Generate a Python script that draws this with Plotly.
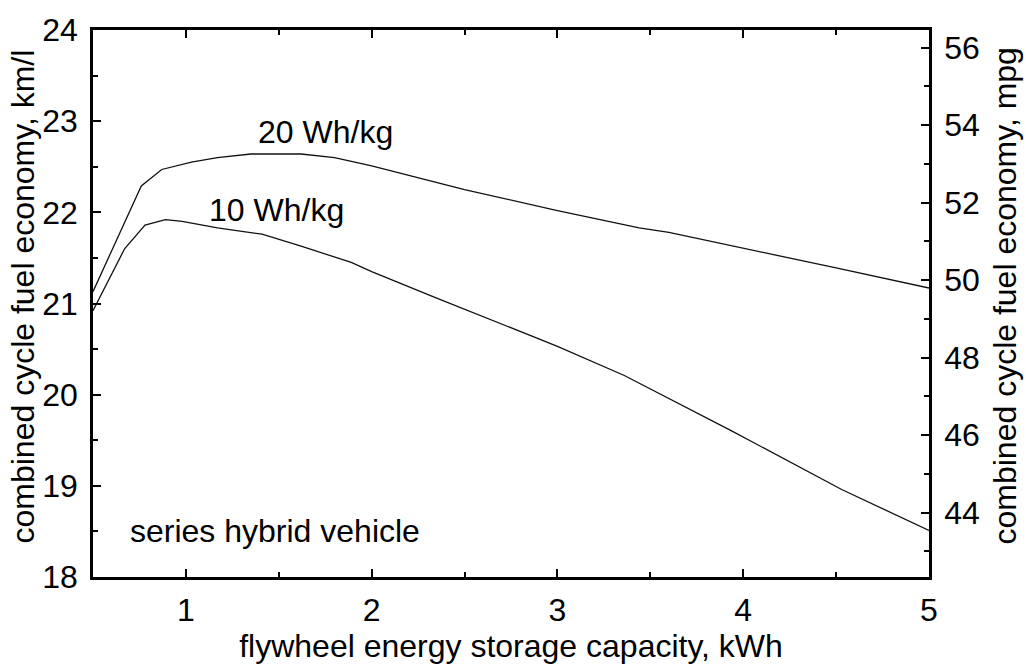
import plotly.graph_objects as go

# data
x_20 = [0.5, 0.62, 0.76, 0.87, 1.03, 1.17, 1.35, 1.62, 1.80, 2.0, 2.5, 3.0, 3.44, 3.6, 4.0, 4.25, 4.5, 5.0]
y_20 = [21.13, 21.67, 22.29, 22.47, 22.55, 22.60, 22.64, 22.64, 22.60, 22.51, 22.25, 22.02, 21.83, 21.78, 21.61, 21.50, 21.39, 21.17]

x_10 = [0.5, 0.67, 0.78, 0.89, 0.98, 1.17, 1.41, 1.62, 1.89, 2.0, 2.35, 2.73, 3.0, 3.36, 3.94, 4.53, 5.0]
y_10 = [20.92, 21.60, 21.86, 21.92, 21.90, 21.83, 21.76, 21.63, 21.45, 21.35, 21.06, 20.75, 20.53, 20.21, 19.60, 18.96, 18.51]

x_ticks = [1, 2, 3, 4, 5]
y_ticks_kml = [18, 19, 20, 21, 22, 23, 24]
y_ticks_mpg = [44, 46, 48, 50, 52, 54, 56]

KML_PER_MPG = 0.425144
FONT = "Liberation Sans, Arial, sans-serif"
FS = 32

fig = go.Figure()
fig.add_trace(go.Scatter(x=x_20, y=y_20, mode="lines", line=dict(color="#111", width=1.3),
                         showlegend=False))
fig.add_trace(go.Scatter(x=x_10, y=y_10, mode="lines", line=dict(color="#111", width=1.3),
                         showlegend=False))
fig.add_trace(go.Scatter(x=[None], y=[None], yaxis="y2", showlegend=False))

tf = dict(size=FS, family=FONT, color="black")
fig.add_annotation(x=1.753, y=22.88, text="20 Wh/kg", showarrow=False,
                   xanchor="center", yanchor="middle", font=tf)
fig.add_annotation(x=1.489, y=22.03, text="10 Wh/kg", showarrow=False,
                   xanchor="center", yanchor="middle", font=tf)
fig.add_annotation(x=0.69, y=18.51, text="series hybrid vehicle", showarrow=False,
                   xanchor="left", yanchor="middle", font=tf)
# axis titles for the two y axes
fig.add_annotation(xref="paper", yref="paper", x=0, y=0.5, xshift=-71, yshift=7,
                   text="combined cycle fuel economy, km/l", textangle=-90, showarrow=False,
                   xanchor="center", yanchor="middle", font=tf)
fig.add_annotation(xref="paper", yref="paper", x=1, y=0.5, xshift=75, yshift=7,
                   text="combined cycle fuel economy, mpg", textangle=-90, showarrow=False,
                   xanchor="center", yanchor="middle", font=tf)

axis_common = dict(showline=True, linecolor="black", linewidth=2.5, ticks="inside",
                   tickcolor="black", tickwidth=2, ticklen=8, showgrid=False, zeroline=False,
                   tickfont=tf)
minor_style = dict(ticks="inside", ticklen=5, tickcolor="black", tickwidth=1.5)

fig.update_layout(
    width=1026, height=671,
    margin=dict(l=93, r=97, t=22, b=88),
    paper_bgcolor="white", plot_bgcolor="white",
    font=dict(family=FONT, size=FS, color="black"),
    xaxis=dict(range=[0.5, 5], tickvals=x_ticks, mirror="ticks",
               minor=dict(dtick=0.5, **minor_style),
               title=dict(text="flywheel energy storage capacity, kWh", standoff=8, font=tf),
               ticklabelstandoff=3, **axis_common),
    yaxis=dict(range=[18, 24], tickvals=y_ticks_kml,
               minor=dict(dtick=0.5, **minor_style),
               ticklabelstandoff=6, **axis_common),
    yaxis2=dict(overlaying="y", side="right", range=[18 / KML_PER_MPG, 24 / KML_PER_MPG],
                tickvals=y_ticks_mpg,
                minor=dict(dtick=1, **minor_style),
                ticklabelstandoff=6, **axis_common),
)

fig.write_html("out.html")
